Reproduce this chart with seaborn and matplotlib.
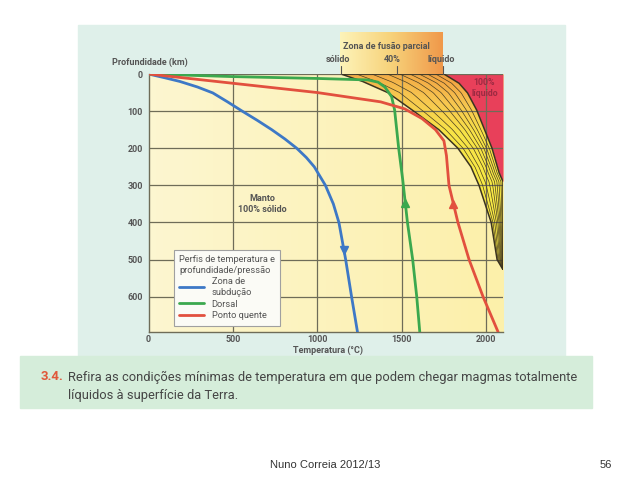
import numpy as np
import matplotlib
matplotlib.use('Agg')
import matplotlib.pyplot as plt
import seaborn as sns
from matplotlib.colors import LinearSegmentedColormap
from matplotlib.patches import Rectangle, Polygon
from matplotlib.lines import Line2D

# temperature (C) / depth (km) profiles
subd_T = [0, 95, 185, 290, 381, 468, 555, 645, 730, 808, 878, 935, 982, 1048, 1095, 1128, 1168, 1203, 1238]
subd_d = [0, 10, 20, 35, 51, 75, 100, 125, 150, 175, 200, 225, 250, 300, 350, 400, 500, 600, 695]
dorsal_T = [0, 500, 1000, 1300, 1360, 1400, 1440, 1458, 1482, 1506, 1534, 1565, 1589, 1607]
dorsal_d = [0, 7, 12, 16, 22, 35, 61, 97, 200, 285, 400, 500, 600, 695]
hot_T = [0, 500, 1000, 1375, 1518, 1620, 1700, 1750, 1765, 1780, 1833, 1899, 1982, 2071]
hot_d = [0, 25, 50, 75, 94, 120, 150, 180, 220, 300, 400, 500, 600, 695]

# partial melting zone
solidus_T = [1140, 1268, 1417, 1571, 1720, 1833, 1910, 1958, 2030, 2065, 2100]
solidus_d = [0, 20, 50, 100, 150, 200, 250, 300, 400, 500, 527]
liquidus_T = [1750, 1840, 1890, 1944, 2035, 2077, 2100, 2100, 2100, 2100]
liquidus_d = [0, 25, 51, 97, 200, 266, 290, 400, 500, 527]
melt_frac = [0.15, 0.3, 0.45, 0.57, 0.67, 0.76, 0.84, 0.92]

x_ticks = [0, 500, 1000, 1500, 2000]
y_ticks = [0, 100, 200, 300, 400, 500, 600]

W, H = 638, 479
def fx(px): return px / W
def fy(py): return 1 - py / H

sns.set_style('white')
plt.rcParams['font.family'] = ['Liberation Sans Narrow', 'Roboto', 'DejaVu Sans']

fig = plt.figure(figsize=(6.38, 4.79), dpi=100)
fig.patch.set_facecolor('white')

# scanned page background
fig.add_artist(Rectangle((fx(78), fy(356)), fx(565) - fx(78), fy(25) - fy(356),
                         transform=fig.transFigure, color='#dff0ea', zorder=0))
fig.add_artist(Rectangle((fx(20), fy(408)), fx(592) - fx(20), fy(356) - fy(408),
                         transform=fig.transFigure, color='#d5edda', zorder=0))

ax = fig.add_axes([fx(148.5), fy(332), fx(503) - fx(148.5), fy(74) - fy(332)])
ax.set_zorder(1)

# plot background gradient
bg = LinearSegmentedColormap.from_list('bg', ['#fcf6d0', '#fcf0aa'])
ax.imshow(np.linspace(0, 1, 50).reshape(1, -1), extent=[0, 2100, 695, 0], cmap=bg,
          aspect='auto', zorder=0)

# 100% liquid zone
ax.fill_betweenx(liquidus_d, liquidus_T, 2100, color='#e8405a', lw=0, zorder=1)

# partial melting zone with gradient
poly_xy = list(zip(solidus_T, solidus_d)) + list(zip(liquidus_T[::-1], liquidus_d[::-1]))
poly = Polygon(poly_xy, closed=True, facecolor='none', edgecolor='#3b3320', lw=1.1, zorder=2.6)
ax.add_patch(poly)
TT, DD = np.meshgrid(np.linspace(1100, 2100, 200), np.linspace(0, 530, 200))
val = np.clip(1 - DD / 160, 0, 1) * 0.75 + 0.3 * np.clip((TT - 1500) / 600, 0, 1) * np.clip(1 - DD / 300, 0, 1)
melt_cmap = LinearSegmentedColormap.from_list('melt', ['#f8ea45', '#f7c650', '#f0923c'])
im = ax.imshow(val, extent=[1100, 2100, 530, 0], cmap=melt_cmap, vmin=0, vmax=1,
               aspect='auto', zorder=1.5)
im.set_clip_path(poly)

dd = np.linspace(0, 527, 150)
s = np.interp(dd, solidus_d, solidus_T)
l = np.interp(dd, liquidus_d, liquidus_T)
for f in melt_frac:
    ax.plot(s + f * (l - s), dd, color='#4a3e22', lw=0.5, zorder=2.4)

# grid above fills
for t in x_ticks[1:]:
    ax.axvline(t, color='#6e6c58', lw=0.9, zorder=2.2)
for t in y_ticks[1:]:
    ax.axhline(t, color='#6e6c58', lw=0.9, zorder=2.2)

sns.lineplot(x=subd_T, y=subd_d, sort=False, estimator=None, color='#3d78c6', lw=2,
             ax=ax, zorder=3, label='Zona de\nsubdução')
sns.lineplot(x=dorsal_T, y=dorsal_d, sort=False, estimator=None, color='#3ba84e', lw=2,
             ax=ax, zorder=3, label='Dorsal')
sns.lineplot(x=hot_T, y=hot_d, sort=False, estimator=None, color='#e2503e', lw=2,
             ax=ax, zorder=3, label='Ponto quente')

# direction arrows
ax.plot(np.interp(473, subd_d, subd_T), 473, marker='v', ms=6, color='#3d78c6', zorder=4)
ax.plot(np.interp(347, dorsal_d, dorsal_T), 347, marker='^', ms=6, color='#3ba84e', zorder=4)
ax.plot(np.interp(350, hot_d, hot_T), 350, marker='^', ms=6, color='#e2503e', zorder=4)

ax.set_xlim(0, 2100)
ax.set_ylim(695, 0)
ax.set_xticks(x_ticks)
ax.set_yticks(y_ticks)
ax.tick_params(length=0, labelsize=6.5, labelcolor='#555555')
ax.tick_params(axis='x', pad=2)
ax.tick_params(axis='y', pad=4)
for lab in ax.get_xticklabels() + ax.get_yticklabels():
    lab.set_fontweight('bold')
for side in ['top', 'right']:
    ax.spines[side].set_visible(False)
for side in ['left', 'bottom']:
    ax.spines[side].set_color('#6e6c58')
    ax.spines[side].set_linewidth(1)
ax.axhline(0, color='#6e6c58', lw=0.9, zorder=2.2)
ax.set_xlabel('')
ax.set_ylabel('')

ax.text(677, 350, 'Manto\n100% sólido', ha='center', va='center', fontsize=6.5,
        color='#555555', fontweight='bold', zorder=4)
ax.text(1990, 38, '100%\nlíquido', ha='center', va='center', fontsize=6.3,
        color='#9c2a42', fontweight='bold', zorder=4, linespacing=1.2)

leg = ax.legend(title='Perfis de temperatura e\nprofundidade/pressão', loc='upper left',
                bbox_to_anchor=(fx(174), fy(250)), bbox_transform=fig.transFigure,
                borderaxespad=0, fontsize=6.7, title_fontsize=6.7, frameon=True,
                fancybox=False, handlelength=2.7, labelspacing=0.3, borderpad=0.55)
leg._legend_box.align = 'left'
leg.get_frame().set_edgecolor('#a0a0a0')
leg.get_frame().set_facecolor('#fbfbf6')
leg.get_frame().set_linewidth(0.8)
leg.get_frame().set_alpha(1)
leg.get_title().set_color('#555555')
for t in leg.get_texts():
    t.set_color('#555555')
for h in leg.legend_handles:
    h.set_linewidth(2)
leg.set_zorder(5)

# header box of the partial melt zone
hax = fig.add_axes([fx(340), fy(74), fx(443) - fx(340), fy(32) - fy(74)])
hax.imshow(np.linspace(0, 1, 60).reshape(1, -1), aspect='auto',
           cmap=LinearSegmentedColormap.from_list('hd', ['#fdf3b8', '#f7d27a', '#f0994a']))
hax.axis('off')

fig.text(fx(386), fy(46), 'Zona de fusão parcial', ha='center', va='center', fontsize=6.5,
         color='#555555', fontweight='bold')
for xp, lab in [(338, 'sólido'), (392, '40%'), (441, 'líquido')]:
    fig.text(fx(xp), fy(59), lab, ha='center', va='center', fontsize=6.5,
             color='#555555', fontweight='bold')
for xp in [341, 397, 443]:
    fig.add_artist(Line2D([fx(xp), fx(xp)], [fy(66), fy(74)], transform=fig.transFigure,
                          color='#555555', lw=0.8))

fig.text(fx(112), fy(62), 'Profundidade (km)', ha='left', va='center', fontsize=6.5,
         color='#555555', fontweight='bold')
fig.text(fx(328), fy(350), 'Temperatura (°C)', ha='center', va='center', fontsize=6.5,
         color='#555555', fontweight='bold')

# question text
fig.text(fx(41), fy(377), '3.4.', ha='left', va='center', fontsize=9.5,
         color='#e0583a', fontweight='bold')
fig.text(fx(68), fy(377), 'Refira as condições mínimas de temperatura em que podem chegar magmas totalmente',
         ha='left', va='center', fontsize=9.3, color='#454545')
fig.text(fx(68), fy(395), 'líquidos à superfície da Terra.', ha='left', va='center',
         fontsize=9.3, color='#454545')

# slide footer
fig.text(fx(325), fy(465), 'Nuno Correia 2012/13', ha='center', va='center', fontsize=8,
         color='#333333', family='Liberation Sans')
fig.text(fx(606), fy(465), '56', ha='center', va='center', fontsize=8,
         color='#333333', family='Liberation Sans')

fig.savefig('out.png', dpi=100)
